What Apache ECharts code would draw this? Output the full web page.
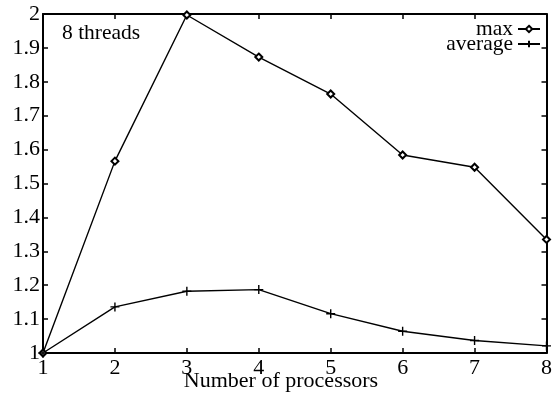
<!DOCTYPE html>
<html>
<head>
<meta charset="utf-8">
<script src="https://cdn.jsdelivr.net/npm/echarts@6/dist/echarts.min.js"></script>
<style>
html,body{margin:0;padding:0;background:#fff;}
#c{width:555px;height:402px;}
</style>
</head>
<body>
<div id="c"></div>
<script>
var processors = [1, 2, 3, 4, 5, 6, 7, 8];
var maxValues = [1.0, 1.566, 1.997, 1.873, 1.764, 1.584, 1.548, 1.335];
var avgValues = [1.0, 1.136, 1.182, 1.187, 1.116, 1.064, 1.037, 1.021];
var seriesNames = ['max', 'average'];
var xTitle = 'Number of processors';
var noteText = '8 threads';

var font = 'Liberation Serif';
var chart = echarts.init(document.getElementById('c'), null, {renderer: 'canvas'});

function pairs(xs, ys) { return xs.map(function (x, i) { return [x, ys[i]]; }); }

var crossPath = 'path://M0,5L10,5M5,0L5,10';

var commonAxis = {
  axisLine: {show: true, lineStyle: {color: '#000', width: 2}},
  axisTick: {show: true, inside: true, length: 5, lineStyle: {color: '#000', width: 1.5}},
  splitLine: {show: false}
};

chart.setOption({
  animation: false,
  backgroundColor: '#fff',
  grid: {left: 43, right: 8, top: 14, bottom: 49, show: false},
  legend: {
    orient: 'vertical',
    right: 14,
    top: 18,
    align: 'right',
    itemGap: -7,
    itemWidth: 22,
    itemHeight: 8,
    padding: 0,
    textStyle: {fontFamily: font, fontSize: 21.5, color: '#000', padding: 0},
    data: seriesNames
  },
  xAxis: [
    Object.assign({}, commonAxis, {
      type: 'value', min: 1, max: 8, interval: 1, position: 'bottom',
      axisLabel: {fontFamily: font, fontSize: 22, color: '#000', margin: 4}
    }),
    Object.assign({}, commonAxis, {
      type: 'value', min: 1, max: 8, interval: 1, position: 'top',
      axisLabel: {show: false}
    })
  ],
  yAxis: [
    Object.assign({}, commonAxis, {
      type: 'value', min: 1, max: 2, interval: 0.1, position: 'left',
      axisLabel: {fontFamily: font, fontSize: 22, color: '#000', margin: 3,
        formatter: function (v) { return String(Math.round(v * 10) / 10); }}
    }),
    Object.assign({}, commonAxis, {
      type: 'value', min: 1, max: 2, interval: 0.1, position: 'right',
      axisLabel: {show: false}
    })
  ],
  graphic: [
    {type: 'text', left: 62, top: 22,
      style: {text: noteText, fontFamily: font, fontSize: 21.5, fill: '#000'}},
    {type: 'text', x: 281, y: 392,
      style: {text: xTitle, fontFamily: font, fontSize: 22, fill: '#000', align: 'center', verticalAlign: 'bottom'}}
  ],
  series: [
    {
      name: seriesNames[0], type: 'line', xAxisIndex: 0, yAxisIndex: 0,
      data: pairs(processors, maxValues),
      symbol: 'emptyDiamond', symbolSize: 7,
      lineStyle: {color: '#000', width: 1.4},
      itemStyle: {color: '#000', borderColor: '#000', borderWidth: 1.4},
      clip: false
    },
    {
      name: seriesNames[1], type: 'line', xAxisIndex: 0, yAxisIndex: 0,
      data: pairs(processors, avgValues),
      symbol: crossPath, symbolSize: 9,
      lineStyle: {color: '#000', width: 1.4},
      itemStyle: {color: '#000', borderColor: '#000', borderWidth: 1.4},
      clip: false
    }
  ]
});
</script>
</body>
</html>
